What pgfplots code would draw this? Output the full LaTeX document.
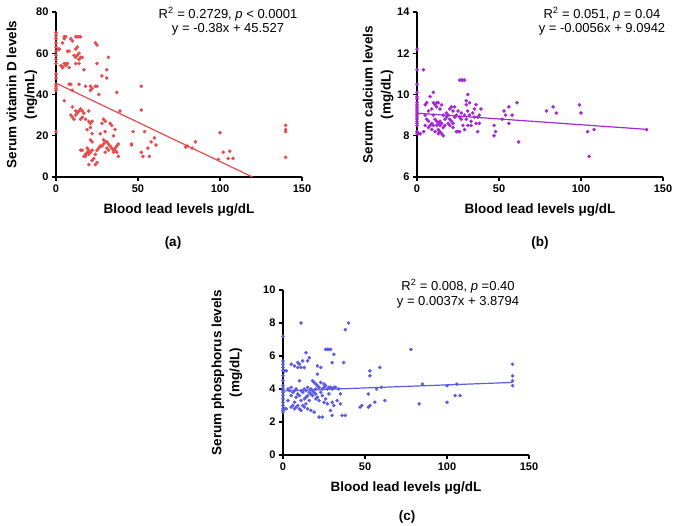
\documentclass[border=0pt]{standalone}
\usepackage{fontspec}
\setmainfont{Liberation Sans}
\usepackage{pgfplots}
\pgfplotsset{compat=1.18}
\definecolor{redpt}{HTML}{E94A4C}
\definecolor{purpt}{HTML}{A427D8}
\definecolor{blupt}{HTML}{5B5BE6}
\newcommand{\lblfont}{\bfseries\fontsize{13.5}{18}\selectfont}
\newcommand{\annfont}{\fontsize{13}{15}\selectfont}
\pgfplotsset{
  prism/.style={
    scale only axis, width=246pt, height=165pt,
    axis lines=left, axis line style={-, line width=1.4pt},
    tick align=outside, tick style={black, line width=1.2pt},
    major tick length=4pt,
    xmin=0, xmax=150, xtick={0,50,100,150},
    clip=false,
    ticklabel style={font=\bfseries\fontsize{11}{13}\selectfont},
    /pgf/number format/assume math mode=true,
    label style={font=\lblfont, align=center, inner sep=0pt},
    xlabel={Blood lead levels μg/dL},
    xlabel style={at={(axis description cs:0.5,-0.2)}, anchor=center},
  },
  dots/.style={only marks, mark=*, mark size=1.6pt, color=#1},
  fit/.style={no marks, line width=1.2pt, color=#1},
}
\begin{document}
\begin{tikzpicture}
\useasboundingbox (0pt,0pt) rectangle (675pt,-526pt);

% (a) vitamin D
\begin{axis}[prism, at={(56pt,-177pt)}, anchor=south west,
  ymin=0, ymax=80, ytick={0,20,40,60,80},
  ylabel={Serum vitamin D levels\\(ng/mL)},
  ylabel style={at={(axis description cs:-0.075,0.5)}, anchor=south}]
\addplot[dots=redpt] coordinates {
(0,70)(0,68.5)(0,67)(0,65)(0,63)(0,61)(0,59)(0,57)(0,55)(0,50)(0,48)(0,45)(0,44)(0,43)(0,42)(0,22)
(1.5,62)(2,62)(4,65)(5,68)(6,68)(5,67)(9,67)(10,66)(12,68)(13,68)(14,68)(15,68)(12,62)(13,63)
(14,60)(13,59)(12,58)(15,58)(16,58)(14,57)(11,59)(3,54)(4,53)(5,55)(6,54)(7,55)(8,53)(6,55)
(12,55)(14,55)(8,61)(7,61)(4,53.5)(24,65)(25,64)(25,55)(32,58)(31,52)(31,48)(17,52)(28,49)
(8,45)(9,45)(14,45)(10,42)(18,44)(21,44)(22,43)(24,44)(25,44)(21,42)(26,40)(37,41)(52,44)(39,32)(52,32.5)
(5,37)(10,34)(12,32)(13,31)(14,32)(15,33)(16,32)(17,31)(20,32)(18,28)(20,27)(21,26)(9,30)(10,29)
(12,30)(11,28)(15,28)(16,29)(22,27)(29,28)(30,27)(28,26)(33,26)(34,25)(30,22)(36,23)(27,21)(35,20)
(47,22)(54,22)(60,19)(58,17)(61,15.5)(100,21.5)(140,25)(140,23)(140,22)(140,9.5)
(22,21)(21,18)(22,17)(19,23)(21,24)(30,17)(29,16)(28,15)(29,18)(31,17)(32,16)(27,15)(26,14)(25,13)
(24,11)(23,9)(22,8)(24,6)(20,6)(25,7)(16,13)(17,10)(18,11)(19,12)(20,13)(21,12)(22,13)(18,10)
(15,13)(19,14)(20,11)(33,15)(34,14)(35,13)(36,14)(37,12)(38,10)(37,15)(36,13)(38,16)(35,12)
(32,13)(30,12)(31,14)(46,16)(46,15.5)(52,12)(53,10)(57,10)(56,14)(79,14.5)(80,15)(85,17)(83,14)
(99,8.5)(105,9)(106,12.5)(108,9)(102,12)
};
\addplot[fit=redpt] coordinates {(0,45.527)(119.8,0)};
\end{axis}

% (b) calcium
\begin{axis}[prism, at={(417pt,-177pt)}, anchor=south west,
  ymin=6, ymax=14, ytick={6,8,10,12,14},
  ylabel={Serum calcium levels\\(mg/dL)},
  ylabel style={at={(axis description cs:-0.095,0.5)}, anchor=south}]
\addplot[dots=purpt] coordinates {
(0,12.2)(0,11.2)(0,10.5)(0,10.1)(0,9.9)(0,9.8)(0,9.6)(0,9.5)(0,9.4)(0,9.3)(0,9.2)(0,9.1)(0,9.0)
(0,8.9)(0,8.8)(0,8.7)(0,8.6)(0,8.5)(0,8.2)(0,8.1)
(1,8.1)(2,8.1)(4,11.2)(4,8.2)(5,9.5)(5,9.0)(5,8.5)(6,9.6)(6,8.8)(7,8.7)(7,8.4)(7,9.2)(8,9.9)(8,8.5)
(9,9.3)(9,8.6)(9,8.3)(10,10.1)(10,9.6)(10,9.0)(10,8.5)(11,9.5)(11,8.8)(11,8.2)(12,9.6)(12,9.4)
(12,8.7)(12,8.5)(13,9.6)(13,8.6)(13,8.3)(13,8.1)(14,9.3)(14,8.7)(14,8.5)(14,8.2)(15,9.5)(15,8.6)
(15,8.1)(16,9.0)(16,8.4)(16,8.0)(17,8.8)(17,8.5)(18,9.1)(18,8.9)(19,9.0)(19,8.6)(20,9.3)(20,8.8)
(20,8.5)(21,9.4)(21,8.7)(22,9.2)(22,8.6)(22,8.4)(23,9.4)(23,8.9)(24,9.0)(24,8.2)(25,9.2)(25,8.2)
(26,10.7)(26,8.9)(26,8.2)(27,10.7)(27,9.1)(27,8.8)(28,10.7)(28,8.5)(29,10.7)(29,9.0)(29,8.3)
(30,9.7)(30,9.5)(30,8.8)(31,10.0)(31,9.2)(31,8.5)(32,9.6)(32,9.0)(33,8.7)(33,8.5)(34,9.1)(35,9.3)
(35,8.9)(36,9.5)(36,8.6)(37,8.9)(37,8.2)(38,9.0)(38,8.6)(39,9.3)(47,8.5)(48,8.2)(47,8.0)(53,9.2)
(54,9.0)(56,9.4)(58,9.0)(56,8.6)(61,9.6)(62,7.7)(52,8.8)(79,9.2)(83,9.4)(85,9.1)(99,9.5)(100,9.1)
(104,8.2)(105,7.0)(108,8.3)(140,8.3)
};
\addplot[fit=purpt] coordinates {(0,9.0942)(140,8.3102)};
\end{axis}

% (c) phosphorus
\begin{axis}[prism, at={(283pt,-455pt)}, anchor=south west,
  ymin=0, ymax=10, ytick={0,2,4,6,8,10},
  ylabel={Serum phosphorus levels\\(mg/dL)},
  ylabel style={at={(axis description cs:-0.165,0.5)}, anchor=south}]
\addplot[dots=blupt] coordinates {
(0,7.2)(0,5.7)(0,5.5)(0,5.3)(0,5.1)(0,4.8)(0,4.5)(0,4.2)(0,4.0)(0,3.9)(0,3.8)(0,3.6)(0,3.4)(0,3.2)
(0,3.0)(0,2.8)(0,2.7)(0,2.6)
(1,5.1)(2,5.1)(1,2.8)(2,2.8)(3,4.0)(3,3.3)(4,3.9)(5,5.5)(5,4.1)(5,3.6)(5,2.9)(6,3.8)(6,3.0)(7,5.4)
(7,3.9)(7,3.2)(7,2.8)(8,4.0)(8,3.5)(8,2.9)(9,5.6)(9,5.3)(9,3.7)(9,3.0)(10,5.5)(10,4.5)(10,3.6)
(10,2.8)(11,8.0)(11,5.3)(11,3.9)(11,3.3)(11,2.7)(12,5.7)(12,3.8)(12,3.0)(13,5.3)(13,4.0)(13,3.4)
(13,2.9)(14,6.2)(14,3.9)(14,3.5)(14,3.1)(15,5.7)(15,4.1)(15,3.6)(15,2.8)(16,5.9)(16,3.8)(16,3.3)
(17,4.0)(17,3.7)(17,2.7)(18,4.5)(18,3.9)(18,3.6)(19,4.4)(19,3.8)(19,2.6)(20,4.3)(20,4.0)(20,3.7)
(20,3.4)(21,5.4)(21,4.9)(21,4.2)(21,3.5)(22,4.1)(22,3.3)(22,2.3)(23,5.3)(23,4.4)(23,3.8)(24,4.0)
(24,3.6)(24,2.3)(25,4.3)(25,4.1)(25,3.2)(26,6.4)(26,4.2)(26,3.4)(27,6.4)(27,4.0)(27,3.1)(28,6.4)
(28,4.1)(28,3.7)(29,6.4)(29,4.1)(29,2.7)(30,5.6)(30,4.0)(30,3.2)(30,2.4)(31,6.1)(31,4.1)(31,3.0)
(32,4.1)(33,3.3)(34,4.0)(35,3.7)(35,3.1)(36,2.4)(37,5.6)(38,7.6)(38,2.4)(40,8.0)(47,2.9)(48,3.0)
(52,3.7)(52,2.9)(53,5.1)(53,4.8)(53,3.0)(56,3.2)(57,4.0)(59,5.3)(60,4.1)(62,3.3)(78,6.4)(83,3.1)
(85,4.3)(100,4.2)(100,3.2)(105,3.6)(106,4.3)(108,3.6)(140,5.5)(140,4.8)(140,4.5)(140,4.2)
};
\addplot[fit=blupt] coordinates {(0,3.8794)(140,4.3974)};
\end{axis}

% regression annotations
\node[font=\annfont] at (228pt,-14pt) {R\textsuperscript{2} = 0.2729, \textit{p} < 0.0001};
\node[font=\annfont] at (228pt,-29pt) {y = -0.38x + 45.527};
\node[font=\annfont] at (602pt,-14pt) {R\textsuperscript{2} = 0.051, \textit{p} = 0.04};
\node[font=\annfont] at (602pt,-29pt) {y = -0.0056x + 9.0942};
\node[font=\annfont] at (458pt,-286pt) {R\textsuperscript{2} = 0.008, \textit{p} =0.40};
\node[font=\annfont] at (458pt,-302pt) {y = 0.0037x + 3.8794};

% panel letters
\node[font=\lblfont] at (173pt,-243pt) {(a)};
\node[font=\lblfont] at (540pt,-243pt) {(b)};
\node[font=\lblfont] at (407pt,-517pt) {(c)};
\end{tikzpicture}
\end{document}
